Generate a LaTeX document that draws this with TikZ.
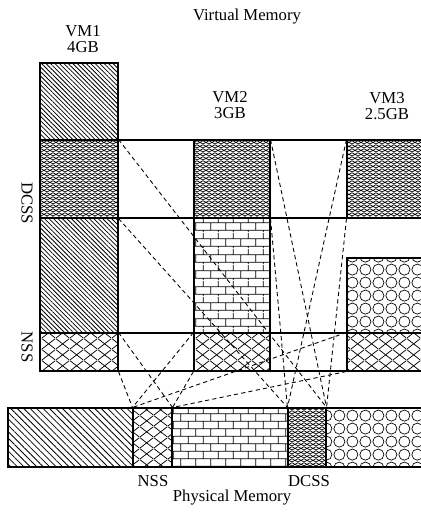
\documentclass[tikz,border=0pt]{standalone}
\usepackage{fontspec}
\setmainfont{Liberation Serif}
\usetikzlibrary{patterns,patterns.meta,fit}

\pgfdeclarepatternformonly{nssmesh}{\pgfpointorigin}{\pgfqpoint{8pt}{6.3pt}}{\pgfqpoint{8pt}{6.3pt}}{%
  \pgfsetlinewidth{0.45pt}%
  \pgfpathmoveto{\pgfqpoint{0pt}{0pt}}\pgfpathlineto{\pgfqpoint{8pt}{6.3pt}}%
  \pgfpathmoveto{\pgfqpoint{0pt}{6.3pt}}\pgfpathlineto{\pgfqpoint{8pt}{0pt}}%
  \pgfusepath{stroke}}
\pgfdeclarepatternformonly{dcssmesh}{\pgfpointorigin}{\pgfqpoint{3.4pt}{2.3pt}}{\pgfqpoint{3.4pt}{2.3pt}}{%
  \pgfsetlinewidth{0.45pt}%
  \pgfpathmoveto{\pgfqpoint{0pt}{0pt}}\pgfpathlineto{\pgfqpoint{3.4pt}{2.3pt}}%
  \pgfpathmoveto{\pgfqpoint{0pt}{2.3pt}}\pgfpathlineto{\pgfqpoint{3.4pt}{0pt}}%
  \pgfusepath{stroke}}
\pgfdeclarepatternformonly{brickwall}{\pgfpointorigin}{\pgfqpoint{8.5pt}{8.8pt}}{\pgfqpoint{8.5pt}{8.8pt}}{%
  \pgfsetlinewidth{0.5pt}%
  \pgfpathmoveto{\pgfqpoint{0pt}{1pt}}\pgfpathlineto{\pgfqpoint{8.5pt}{1pt}}%
  \pgfpathmoveto{\pgfqpoint{0pt}{5.4pt}}\pgfpathlineto{\pgfqpoint{8.5pt}{5.4pt}}%
  \pgfpathmoveto{\pgfqpoint{1pt}{1pt}}\pgfpathlineto{\pgfqpoint{1pt}{5.4pt}}%
  \pgfpathmoveto{\pgfqpoint{5.25pt}{5.4pt}}\pgfpathlineto{\pgfqpoint{5.25pt}{8.8pt}}%
  \pgfpathmoveto{\pgfqpoint{5.25pt}{0pt}}\pgfpathlineto{\pgfqpoint{5.25pt}{1pt}}%
  \pgfusepath{stroke}}
\pgfdeclarepatternformonly{rings}{\pgfpointorigin}{\pgfqpoint{7.6pt}{7.6pt}}{\pgfqpoint{7.6pt}{7.6pt}}{%
  \pgfsetlinewidth{0.4pt}%
  \pgfpathcircle{\pgfqpoint{3.8pt}{3.8pt}}{3.3pt}%
  \pgfusepath{stroke}}

\tikzset{
  blk/.style={draw,line width=0.6pt,inner sep=0pt},
  plain/.style={blk},
  own/.style={blk,pattern={Lines[angle=-45,distance=1.8pt,line width=0.45pt]}},
  ownwide/.style={blk,pattern={Lines[angle=-45,distance=2.6pt,line width=0.45pt]}},
  nss/.style={blk,pattern=nssmesh},
  dcss/.style={blk,pattern=dcssmesh},
  brick/.style={blk,pattern=brickwall},
  ring/.style={blk,pattern=rings},
  link/.style={line width=0.5pt,dash pattern=on 2.4pt off 1.8pt},
  lbl/.style={font=\fontsize{9.5pt}{9pt}\selectfont,align=center}
}

\begin{document}
\begin{tikzpicture}[x=0.02cm,y=-0.02cm]
\useasboundingbox (0,0) rectangle (421,514);
\node[own,fit={(40,63)(118,140)}] (v1top) {};
\node[dcss,fit={(40,140)(118,218)}] (v1dcss) {};
\node[own,fit={(40,218)(118,333)}] (v1mid) {};
\node[nss,fit={(40,333)(118,371)}] (v1nss) {};
\node[plain,fit={(118,140)(194,218)}] (g1top) {};
\node[plain,fit={(118,218)(194,333)}] (g1mid) {};
\node[plain,fit={(118,333)(194,371)}] (g1bot) {};
\node[dcss,fit={(194,140)(270,218)}] (v2dcss) {};
\node[brick,fit={(194,218)(270,333)}] (v2mid) {};
\node[nss,fit={(194,333)(270,371)}] (v2nss) {};
\node[plain,fit={(270,140)(347,218)}] (g2top) {};
\node[plain,fit={(270,333)(347,371)}] (g2bot) {};
\node[dcss,fit={(347,140)(430,218)}] (v3dcss) {};
\node[ring,fit={(347,258)(430,333)}] (v3mid) {};
\node[nss,fit={(347,333)(430,371)}] (v3nss) {};

\node[ownwide,fit={(8,408)(133,467)}] (pown) {};
\node[nss,fit={(133,408)(172,467)}] (pnss) {};
\node[brick,fit={(172,408)(288,467)}] (pbrick) {};
\node[dcss,fit={(288,408)(326,467)}] (pdcss) {};
\node[ring,fit={(326,408)(430,467)}] (pring) {};

\draw[link] (v1dcss.north east) -- (pdcss.north east);
\draw[link] (v1dcss.south east) -- (pdcss.north west);
\draw[link] (v2dcss.north east) -- (pdcss.north east);
\draw[link] (v2dcss.south east) -- (pdcss.north west);
\draw[link] (v3dcss.north west) -- (pdcss.north west);
\draw[link] (v3dcss.south west) -- (pdcss.north east);
\draw[link] (v1nss.north east) -- (pnss.north east);
\draw[link] (v1nss.south east) -- (pnss.north west);
\draw[link] (v2nss.north west) -- (pnss.north west);
\draw[link] (v2nss.south west) -- (pnss.north east);
\draw[link] (v3nss.north west) -- (pnss.north west);
\draw[link] (v3nss.south west) -- (pnss.north east);

\node[lbl] (vtitle) at (247,17) {Virtual Memory};
\node[lbl] (vm1) at (83,39) {VM1\\4GB};
\node[lbl] (vm2) at (230,105) {VM2\\3GB};
\node[lbl] (vm3) at (387,106) {VM3\\2.5GB};
\node[lbl,rotate=-90] (dcsslbl) at (27,203) {DCSS};
\node[lbl,rotate=-90] (nsslbl) at (27,347) {NSS};
\node[lbl] (pnsslbl) at (153,481) {NSS};
\node[lbl] (pdcsslbl) at (309,481) {DCSS};
\node[lbl] (ptitle) at (232,498) {Physical Memory};
\end{tikzpicture}
\end{document}
